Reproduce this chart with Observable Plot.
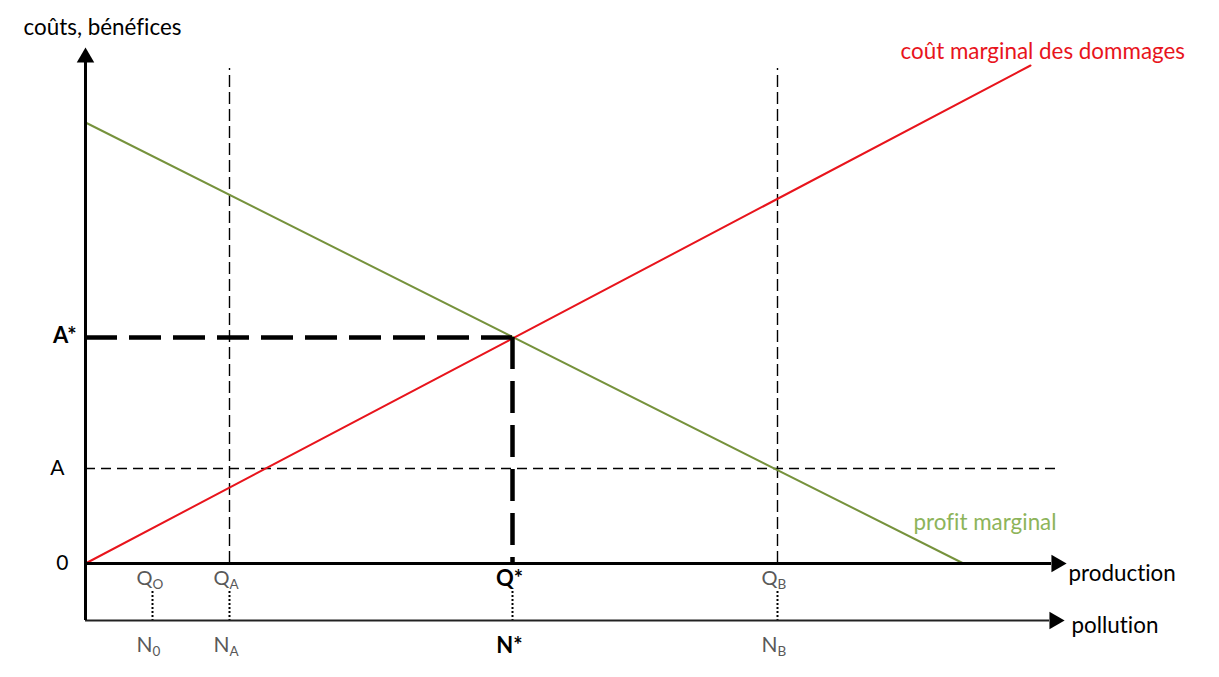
<!DOCTYPE html>
<html><head><meta charset="utf-8">
<script src="https://cdn.jsdelivr.net/npm/d3@7"></script>
<script src="https://cdn.jsdelivr.net/npm/@observablehq/plot@0.6"></script>
<style>body{margin:0;background:#fff;} #chart svg{display:block;} #chart svg text{font-variant-ligatures:none;font-feature-settings:"liga" 0;}</style>
</head><body><div id="chart"></div>
<script>
// Production levels (abstract units) and their labels
const quantityValues = [6.7, 14.4, 42.7, 69.2];
const quantityMain = ["Q", "Q", "Q*", "Q"];
const pollutionMain = ["N", "N", "N*", "N"];
const quantitySubs = ["O", "A", "", "B"];
const pollutionSubs = ["0", "A", "", "B"];
const quantityStarred = [false, false, true, false];
// Abatement levels on the cost axis
const costLabels = ["0", "A", "A*"];
const costValues = [0, 9.5, 22.6];
// Curves: marginal damage cost (red) and marginal profit (green)
const damageX = [0, 94.5], damageY = [0, 49.8];
const profitX = [0, 87.8], profitY = [44.1, 0];
// Axis extents
const xAxisEnd = 96.6, yAxisEnd = 50.2, pollutionLevel = -5.7;

const damage = damageX.map((x, i) => ({x, y: damageY[i]}));
const profit = profitX.map((x, i) => ({x, y: profitY[i]}));
const qA = quantityValues[1], qStar = quantityValues[2], qB = quantityValues[3];
const aVal = costValues[1], aStar = costValues[2];
const qs = quantityValues.map((x, i) => ({x, main: quantityMain[i], pmain: pollutionMain[i], sub: quantitySubs[i], psub: pollutionSubs[i], star: quantityStarred[i]}));
const plain = qs.filter(d => !d.star), starred = qs.filter(d => d.star);

const FONT = "Lato, 'Open Sans', sans-serif";
const GRAY = "#595959";
const RED = "#E8141C";
const FS = 22.4;

const chart = Plot.plot({
  width: 1219, height: 677,
  marginLeft: 85, marginRight: 0, marginTop: 0, marginBottom: 114,
  x: {domain: [0, 113.4], axis: null},
  y: {domain: [0, 56.3], axis: null},
  style: {fontFamily: FONT, background: "white", overflow: "visible"},
  marks: [
    // thin dashed reference lines
    Plot.ruleX([qA, qB], {y1: 0, y2: 49.5, stroke: "black", strokeWidth: 1.4, strokeDasharray: "12,5"}),
    Plot.ruleY([aVal], {x1: 0, x2: 97.2, stroke: "black", strokeWidth: 1.4, strokeDasharray: "10,6"}),
    // curves
    Plot.line(profit, {x: "x", y: "y", stroke: "#76923C", strokeWidth: 2}),
    Plot.line(damage, {x: "x", y: "y", stroke: RED, strokeWidth: 2}),
    // optimum thick dashes
    Plot.ruleY([aStar], {x1: 0, x2: qStar, stroke: "black", strokeWidth: 4.5, strokeDasharray: "32,12"}),
    Plot.ruleX([qStar], {y1: aStar, y2: 0, stroke: "black", strokeWidth: 4.5, strokeDasharray: "32,12"}),
    // dotted connectors between the two horizontal axes
    Plot.ruleX(quantityValues, {y1: -2.8, y2: pollutionLevel, stroke: "black", strokeWidth: 2, strokeDasharray: "2,2"}),
    // axes
    Plot.ruleY([0], {x1: 0, x2: xAxisEnd, stroke: "black", strokeWidth: 3}),
    Plot.ruleY([pollutionLevel], {x1: 0, x2: xAxisEnd - 0.2, stroke: "#222", strokeWidth: 2.2}),
    Plot.ruleX([0], {y1: pollutionLevel, y2: yAxisEnd, stroke: "black", strokeWidth: 3}),
    // arrowheads
    Plot.dot([{x: xAxisEnd + 0.5, y: 0}, {x: xAxisEnd + 0.3, y: pollutionLevel}], {x: "x", y: "y", symbol: "triangle", rotate: 90, r: 6.5, fill: "black", stroke: null}),
    Plot.dot([{x: 0, y: yAxisEnd + 0.4}], {x: "x", y: "y", symbol: "triangle", r: 6.5, fill: "black", stroke: null}),
    // cost axis labels
    Plot.text([costLabels[0]], {x: 0, y: costValues[0], text: d => d, textAnchor: "end", dx: -17, fontSize: 21, fill: "black"}),
    Plot.text([costLabels[1]], {x: 0, y: costValues[1], text: d => d, textAnchor: "end", dx: -21, fontSize: 21, fill: "black"}),
    Plot.text([costLabels[2]], {x: 0, y: costValues[2], text: d => d, textAnchor: "end", dx: -9, dy: -2, fontSize: 22, fontWeight: "bold", fill: "black"}),
    // production labels
    Plot.text(plain, {x: "x", y: 0, text: "main", textAnchor: "end", dy: 15, fontSize: 20, fill: GRAY}),
    Plot.text(plain, {x: "x", y: 0, text: "sub", textAnchor: "start", dy: 21, fontSize: 13.5, fill: GRAY}),
    Plot.text(starred, {x: "x", y: 0, text: "main", textAnchor: "middle", dx: -3, dy: 15, fontSize: 22, fontWeight: "bold", fill: "black"}),
    // pollution labels
    Plot.text(plain, {x: "x", y: pollutionLevel, text: "pmain", textAnchor: "end", dy: 25, fontSize: 21, fill: GRAY}),
    Plot.text(plain, {x: "x", y: pollutionLevel, text: "psub", textAnchor: "start", dy: 31, fontSize: 13.5, fill: GRAY}),
    Plot.text(starred, {x: "x", y: pollutionLevel, text: "pmain", textAnchor: "middle", dx: -3, dy: 25, fontSize: 22, fontWeight: "bold", fill: "black"}),
    // axis titles and curve names
    Plot.text(["coûts, bénéfices"], {x: 0, y: 53.6, text: d => d, textAnchor: "start", dx: -62, fontSize: FS, fill: "black"}),
    Plot.text(["production"], {x: xAxisEnd, y: 0, text: d => d, textAnchor: "start", dx: 17, dy: 10, fontSize: FS, fill: "black"}),
    Plot.text(["pollution"], {x: xAxisEnd, y: pollutionLevel, text: d => d, textAnchor: "start", dx: 20, dy: 5, fontSize: FS, fill: "black"}),
    Plot.text(["coût marginal des dommages"], {x: damageX[1], y: damageY[1], text: d => d, textAnchor: "start", dx: -130, dy: -14, fontSize: FS, fill: RED}),
    Plot.text(["profit marginal"], {x: profitX[1], y: 0, text: d => d, textAnchor: "start", dx: -50, dy: -41, fontSize: FS, fill: "#8DB45A"})
  ]
});
document.getElementById("chart").append(chart);
</script>
</body></html>
